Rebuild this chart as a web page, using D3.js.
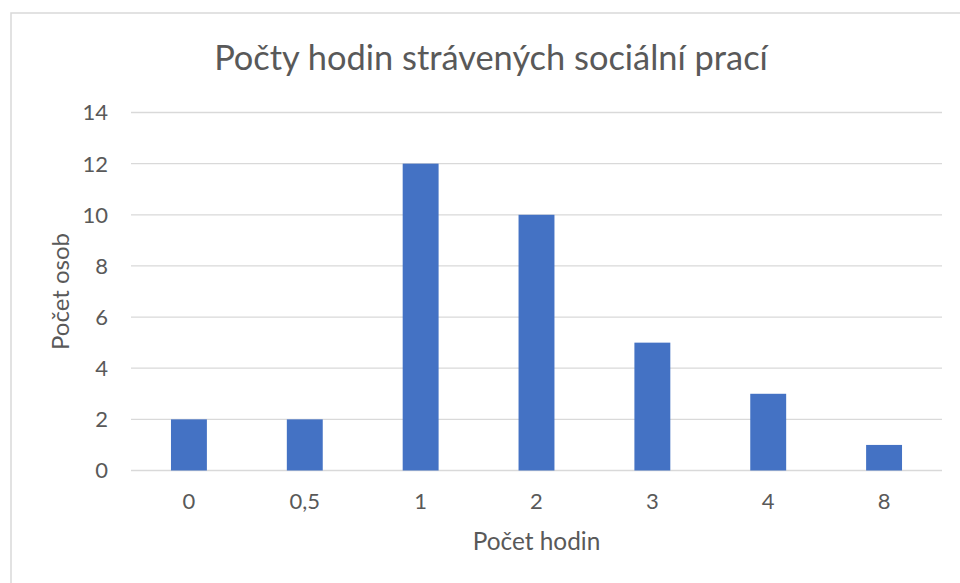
<!DOCTYPE html>
<html>
<head>
<meta charset="utf-8">
<script src="https://cdn.jsdelivr.net/npm/d3@7"></script>
<style>
  body { margin: 0; background: #fff; }
  text { font-family: Lato, "Open Sans", sans-serif; fill: #595959; }
</style>
</head>
<body>
<svg id="chart" width="960" height="583"></svg>
<script>
// data
let categories = ["0", "0,5", "1", "2", "3", "4", "8"];
let counts = [2, 2, 12, 10, 5, 3, 1];
let yTicks = [0, 2, 4, 6, 8, 10, 12, 14];

let titleText = "Počty hodin strávených sociální prací";
let xTitle = "Počet hodin";
let yTitle = "Počet osob";

let svg = d3.select("#chart");

// outer chart frame (only left and top edges are visible)
svg.append("rect")
  .attr("x", 11).attr("y", 13)
  .attr("width", 1000).attr("height", 1000)
  .attr("fill", "none")
  .attr("stroke", "#d9d9d9")
  .attr("stroke-width", 1.5);

let plotLeft = 131, plotRight = 942, plotTop = 112.5, plotBottom = 470.5;

let xScale = d3.scaleBand().domain(categories).range([plotLeft, plotRight]).paddingInner(0.69).paddingOuter(0.345);
let yScale = d3.scaleLinear().domain([0, 14]).range([plotBottom, plotTop]);

// gridlines
svg.append("g")
  .selectAll("line")
  .data(yTicks)
  .enter()
  .append("line")
  .attr("x1", plotLeft).attr("x2", plotRight)
  .attr("y1", d => yScale(d)).attr("y2", d => yScale(d))
  .attr("stroke", "#d9d9d9")
  .attr("stroke-width", 1.3);

// bars
svg.append("g")
  .selectAll("rect")
  .data(counts)
  .enter()
  .append("rect")
  .attr("x", (d, i) => xScale(categories[i]))
  .attr("width", xScale.bandwidth())
  .attr("y", d => yScale(d))
  .attr("height", d => yScale(0) - yScale(d))
  .attr("fill", "#4472c4");

// y tick labels
svg.append("g")
  .selectAll("text")
  .data(yTicks)
  .enter()
  .append("text")
  .attr("x", 108)
  .attr("y", d => yScale(d))
  .attr("dy", "0.36em")
  .attr("text-anchor", "end")
  .attr("font-size", 22)
  .text(d => d);

// x tick labels
svg.append("g")
  .selectAll("text")
  .data(categories)
  .enter()
  .append("text")
  .attr("x", d => xScale(d) + xScale.bandwidth() / 2)
  .attr("y", 509)
  .attr("text-anchor", "middle")
  .attr("font-size", 22)
  .text(d => d);

// titles
svg.append("text")
  .attr("x", 491).attr("y", 70)
  .attr("text-anchor", "middle")
  .attr("font-size", 34.4)
  .text(titleText);

svg.append("text")
  .attr("x", (plotLeft + plotRight) / 2).attr("y", 550)
  .attr("text-anchor", "middle")
  .attr("font-size", 24.4)
  .text(xTitle);

svg.append("text")
  .attr("transform", "translate(69," + ((plotTop + plotBottom) / 2) + ") rotate(-90)")
  .attr("text-anchor", "middle")
  .attr("font-size", 24)
  .text(yTitle);
</script>
</body>
</html>
